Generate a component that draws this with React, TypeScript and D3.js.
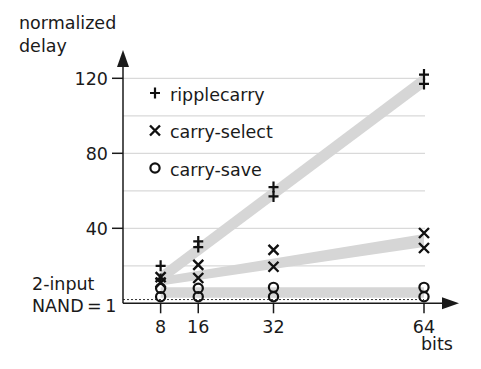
import React, { useEffect, useRef } from 'react';
import * as d3 from 'd3';

// adder width (bits) on the x axis
const bits = [8, 16, 32, 64];

// two measured delays per adder width
const rippleLow = [13, 30, 57, 117];
const rippleHigh = [20, 33, 62, 122];
const selectLow = [11, 13.5, 19.5, 29.5];
const selectHigh = [14, 20.5, 28.5, 37.5];
const saveLow = [3.5, 3.5, 3.5, 3.5];
const saveHigh = [8, 8, 8.5, 8.5];

// shaded trend bands, from 8 to 64 bits
const bandBits = [8, 64];
const rippleBandLow = [10, 115];
const rippleBandHigh = [17, 122.5];
const selectBandLow = [9.5, 30];
const selectBandHigh = [14, 37];
const saveBandLow = [3, 3];
const saveBandHigh = [8.5, 8.5];

const yTicks = [40, 80, 120];
const gridValues = [20, 40, 60, 80, 100, 120];
const nandLevel = 2;

const legendItems = [
  { name: 'ripplecarry', marker: 'plus' },
  { name: 'carry-select', marker: 'cross' },
  { name: 'carry-save', marker: 'circle' }
];

const FONT = 'DejaVu Sans, sans-serif';
const FONT_SIZE = 17.5;
const INK = '#1a1a1a';

const App: React.FC = () => {
  const svgRef = useRef<SVGSVGElement>(null);
  const width = 481;
  const height = 369;

  useEffect(() => {
    if (!svgRef.current) return;
    const svg = d3.select(svgRef.current);
    svg.selectAll('*').remove();

    const x = d3.scaleLinear().domain([0, 64]).range([123, 424]);
    const y = d3.scaleLinear().domain([0, 120]).range([303.3, 78.3]);

    // grid
    svg.append('g')
      .selectAll('line')
      .data(gridValues)
      .enter()
      .append('line')
      .attr('x1', x(0))
      .attr('x2', x(64) + 1)
      .attr('y1', d => y(d))
      .attr('y2', d => y(d))
      .attr('stroke', '#d9d9d9')
      .attr('stroke-width', 1.3);

    // bands
    const bands = [
      [rippleBandLow, rippleBandHigh],
      [selectBandLow, selectBandHigh],
      [saveBandLow, saveBandHigh]
    ];
    bands.forEach(([lo, hi]) => {
      const a = d3.area<number>()
        .x((_, i) => x(bandBits[i]))
        .y0((_, i) => y(lo[i]))
        .y1((_, i) => y(hi[i]));
      svg.append('path')
        .attr('d', a(lo) as string)
        .attr('fill', '#d6d6d6');
    });

    // NAND reference
    svg.append('line')
      .attr('x1', x(0))
      .attr('x2', x(64))
      .attr('y1', y(nandLevel))
      .attr('y2', y(nandLevel))
      .attr('stroke', '#333')
      .attr('stroke-width', 1)
      .attr('stroke-dasharray', '2,2');

    // axes
    const axis = svg.append('g').attr('stroke', INK).attr('stroke-width', 1.5);
    axis.append('line')
      .attr('x1', x(0)).attr('x2', x(0))
      .attr('y1', y(0)).attr('y2', 62);
    axis.append('line')
      .attr('x1', x(0)).attr('x2', 446)
      .attr('y1', y(0)).attr('y2', y(0));
    svg.append('path')
      .attr('d', `M${x(0) - 6},67 L${x(0)},50 L${x(0) + 6},67 Z`)
      .attr('fill', INK);
    svg.append('path')
      .attr('d', `M442,${y(0) - 6} L459,${y(0)} L442,${y(0) + 6} Z`)
      .attr('fill', INK);

    const label = (tx: number, ty: number, s: string | number, anchor = 'start') =>
      svg.append('text')
        .attr('x', tx).attr('y', ty)
        .attr('text-anchor', anchor)
        .attr('font-family', FONT)
        .attr('font-size', FONT_SIZE)
        .attr('fill', INK)
        .text(s);

    yTicks.forEach(t => {
      axis.append('line')
        .attr('x1', x(0) - 11).attr('x2', x(0))
        .attr('y1', y(t)).attr('y2', y(t));
      label(x(0) - 15, y(t) + 6.5, t, 'end');
    });

    bits.forEach(b => {
      axis.append('line')
        .attr('x1', x(b)).attr('x2', x(b))
        .attr('y1', y(0)).attr('y2', y(0) + 10);
      label(x(b), 332.5, b, 'middle');
    });

    label(19, 29, 'normalized');
    label(19, 52, 'delay');
    label(32, 289.5, '2-input');
    label(32, 312, 'NAND\u2009=\u20091');
    label(421, 350, 'bits');

    // markers
    const drawMarker = (g: d3.Selection<SVGGElement, unknown, null, undefined>, kind: string, cx: number, cy: number) => {
      if (kind === 'plus') {
        g.append('path')
          .attr('d', `M${cx - 5},${cy} H${cx + 5} M${cx},${cy - 5.5} V${cy + 5.5}`)
          .attr('stroke', '#111').attr('stroke-width', 2.2).attr('fill', 'none');
      } else if (kind === 'cross') {
        g.append('path')
          .attr('d', `M${cx - 5},${cy - 5} L${cx + 5},${cy + 5} M${cx - 5},${cy + 5} L${cx + 5},${cy - 5}`)
          .attr('stroke', '#111').attr('stroke-width', 2.4).attr('fill', 'none');
      } else {
        g.append('circle')
          .attr('cx', cx).attr('cy', cy).attr('r', 4.6)
          .attr('stroke', '#111').attr('stroke-width', 2.2).attr('fill', 'none');
      }
    };

    const marks = svg.append('g');
    const series: [number[], number[], string][] = [
      [saveLow, saveHigh, 'circle'],
      [selectLow, selectHigh, 'cross'],
      [rippleLow, rippleHigh, 'plus']
    ];
    series.forEach(([lo, hi, kind]) => {
      bits.forEach((b, i) => {
        drawMarker(marks, kind, x(b), y(lo[i]));
        drawMarker(marks, kind, x(b), y(hi[i]));
      });
    });

    // legend
    legendItems.forEach((item, i) => {
      const ly = 94 + i * 37.5;
      drawMarker(marks, item.marker, 155, ly - 1);
      svg.append('text')
        .attr('x', 170)
        .attr('y', ly + 6.5)
        .attr('font-family', FONT)
        .attr('font-size', FONT_SIZE)
        .attr('fill', INK)
        .text(item.name);
    });
  }, []);

  return (
    <svg
      ref={svgRef}
      width={width}
      height={height}
      style={{ position: 'absolute', left: 0, top: 0, background: '#fff' }}
    />
  );
};

export default App;
